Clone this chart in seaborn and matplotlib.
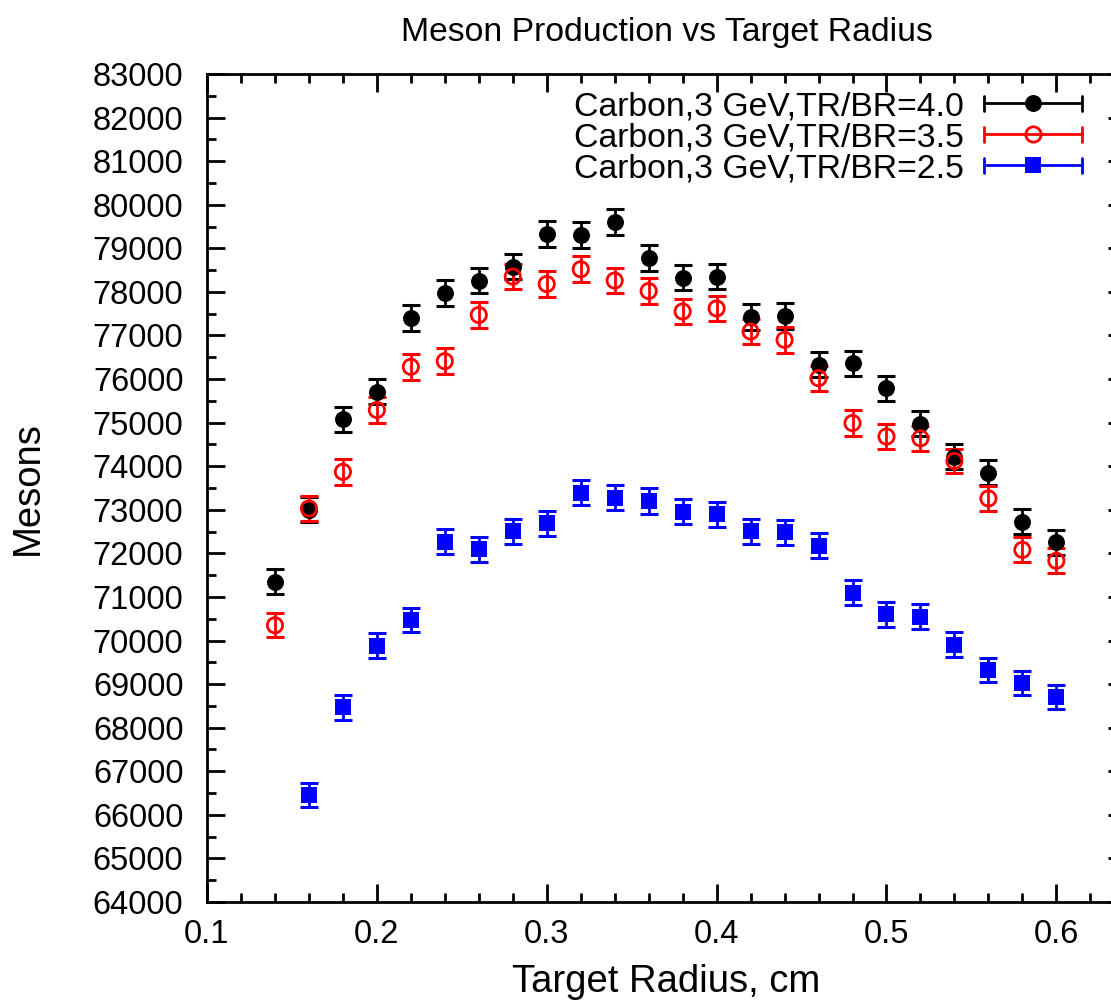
"""Meson production vs target radius (gnuplot-style errorbar chart)."""
import matplotlib
matplotlib.use("Agg")
import matplotlib.pyplot as plt
import numpy as np
import pandas as pd
import seaborn as sns
from matplotlib.legend_handler import HandlerBase
from matplotlib.lines import Line2D
from matplotlib.ticker import MultipleLocator

# --- data --------------------------------------------------------------
radius = [0.14, 0.16, 0.18, 0.20, 0.22, 0.24, 0.26, 0.28, 0.30, 0.32, 0.34, 0.36,
          0.38, 0.40, 0.42, 0.44, 0.46, 0.48, 0.50, 0.52, 0.54, 0.56, 0.58, 0.60]
radius_blue = radius[1:]

mesons_40 = [71350, 73000, 75080, 75710, 77400, 77970, 78260, 78580, 79330, 79310,
             79610, 78780, 78330, 78350, 77430, 77450, 76330, 76360, 75790, 74980,
             74220, 73850, 72730, 72250]
err_40 = [280, 285, 290, 290, 295, 295, 295, 295, 300, 300, 300, 295,
          295, 295, 295, 295, 290, 290, 290, 290, 285, 285, 285, 285]

mesons_35 = [70350, 73030, 73870, 75290, 76280, 76410, 77470, 78350, 78180, 78520,
             78260, 78020, 77550, 77620, 77090, 76900, 76020, 74990, 74680, 74640,
             74120, 73260, 72080, 71830]
err_35 = [280, 285, 290, 290, 295, 295, 295, 295, 295, 295, 295, 295,
          295, 295, 295, 295, 290, 290, 290, 290, 285, 285, 285, 285]

mesons_25 = [66460, 68470, 69880, 70470, 72270, 72090, 72510, 72690, 73390, 73280,
             73200, 72960, 72900, 72510, 72480, 72180, 71100, 70600, 70550, 69900,
             69320, 69030, 68710]
err_25 = [280, 285, 285, 285, 290, 290, 290, 290, 290, 290, 290, 290,
          290, 290, 290, 290, 285, 285, 285, 285, 280, 280, 280]

labels = ["Carbon,3 GeV,TR/BR=4.0", "Carbon,3 GeV,TR/BR=3.5", "Carbon,3 GeV,TR/BR=2.5"]

series = [
    dict(x=radius, y=mesons_40, err=err_40, color="black", marker="o", filled=True),
    dict(x=radius, y=mesons_35, err=err_35, color="#ff0000", marker="o", filled=False),
    dict(x=radius_blue, y=mesons_25, err=err_25, color="#0000ff", marker="s", filled=True),
]


class GnuplotErrHandler(HandlerBase):
    """Legend sample: horizontal bar with end caps and marker in the middle."""

    def create_artists(self, legend, orig, xd, yd, w, h, fontsize, trans):
        c = orig.get_color()
        y = h / 2 - yd
        x0, x1 = -xd, w - xd
        lw = 2.0
        arts = [
            Line2D([x0, x1], [y, y], color=c, lw=lw),
            Line2D([x0, x0], [y - 5.5, y + 5.5], color=c, lw=lw),
            Line2D([x1, x1], [y - 5.5, y + 5.5], color=c, lw=lw),
            Line2D([(x0 + x1) / 2], [y], marker=orig.get_marker(), ms=orig.get_markersize(),
                   mfc=orig.get_markerfacecolor(), mec=c, mew=orig.get_markeredgewidth(),
                   ls="none"),
        ]
        for a in arts:
            a.set_transform(trans)
        return arts


sns.set_theme(style="ticks")
plt.rcParams["font.family"] = ["Liberation Sans", "DejaVu Sans"]
plt.rcParams["text.color"] = "black"
plt.rcParams["axes.labelcolor"] = "black"

fig = plt.figure(figsize=(11.11, 10.08), dpi=100)
ax = fig.add_axes([207 / 1111, 106 / 1008, 919 / 1111, 828 / 1008])

ms = 12.2
handles = []
for s, lab in zip(series, labels):
    df = pd.DataFrame({"r": s["x"], "m": s["y"]})
    ax.errorbar(df["r"], df["m"], yerr=s["err"], fmt="none", ecolor=s["color"],
                elinewidth=2.0, capsize=6.3, capthick=2.2, zorder=2)
    if s["filled"]:
        sns.scatterplot(data=df, x="r", y="m", ax=ax, color=s["color"], marker=s["marker"],
                        s=ms ** 2, linewidth=0, zorder=3)
    else:
        sns.scatterplot(data=df, x="r", y="m", ax=ax, marker=s["marker"], s=(ms - 1.2) ** 2,
                        facecolors="none", edgecolor=s["color"], linewidth=2.0, zorder=3)
    handles.append(Line2D([], [], color=s["color"], marker=s["marker"],
                          ms=ms if s["filled"] else ms - 1.2,
                          mfc=s["color"] if s["filled"] else "none",
                          mew=0 if s["filled"] else 2.0))

ax.set_xlim(0.1, 0.641)
ax.set_ylim(64000, 83000)
ax.xaxis.set_minor_locator(MultipleLocator(0.02))
ax.yaxis.set_major_locator(MultipleLocator(1000))
ax.yaxis.set_minor_locator(MultipleLocator(500))
ax.set_xticks([0.1, 0.2, 0.3, 0.4, 0.5, 0.6])
ax.set_xticklabels(["0.1", "0.2", "0.3", "0.4", "0.5", "0.6"])

for sp in ax.spines.values():
    sp.set_linewidth(2.0)
    sp.set_color("black")
    sp.set_visible(True)
ax.tick_params(which="both", direction="in", top=True, right=True, color="black",
               labelsize=23.5, labelcolor="black")
ax.tick_params(which="major", length=13, width=2.0)
ax.tick_params(which="minor", length=6.5, width=2.0)
ax.tick_params(axis="x", which="major", pad=12)
ax.tick_params(axis="y", which="major", pad=17)

ax.set_xlabel("Target Radius, cm", fontsize=27.5, labelpad=10, color="black")
ax.set_ylabel("Mesons", fontsize=27.5, labelpad=34, color="black")
ax.set_title("Meson Production vs Target Radius", fontsize=24.3, pad=24, color="black")

leg = ax.legend(handles, labels, handler_map={Line2D: GnuplotErrHandler()},
                loc="upper right", bbox_to_anchor=(1 - 44 / 919, 1 - 17 / 828),
                frameon=False, markerfirst=False, fontsize=24.3,
                handlelength=2.9, handletextpad=0.6, labelspacing=0.0,
                borderaxespad=0, borderpad=0)
for t in leg.get_texts():
    t.set_color("black")

fig.savefig("out.png", dpi=100)
